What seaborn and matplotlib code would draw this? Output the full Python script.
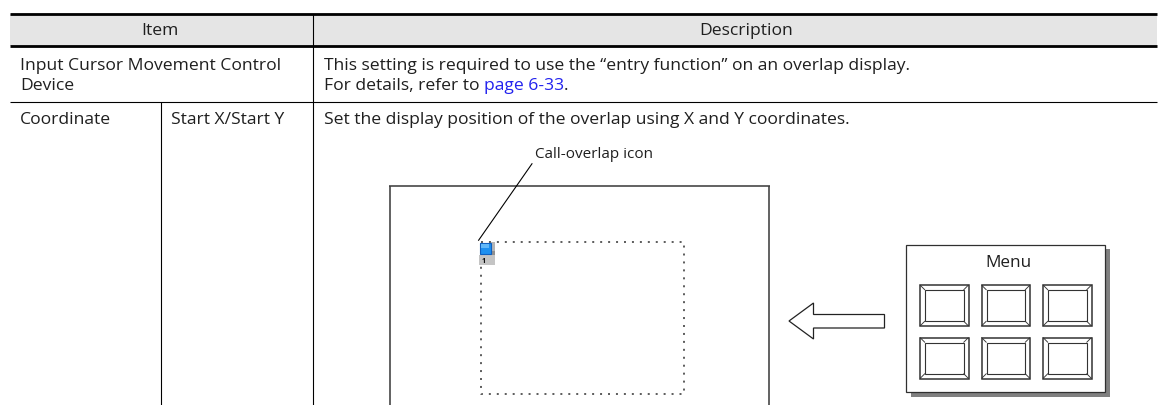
import matplotlib
matplotlib.use("Agg")
import matplotlib.pyplot as plt
from matplotlib.patches import Rectangle, Polygon
import seaborn as sns

sns.set_theme(style="white")
plt.rcParams['font.family'] = ['Open Sans', 'DejaVu Sans']

W, H = 1167, 405
header_labels = ["Item", "Description"]
row1_item = ["Input Cursor Movement Control", "Device"]
row1_desc = "This setting is required to use the \u201centry function\u201d on an overlap display."
row1_ref = ["For details, refer to ", "page 6-33", "."]
row2_item = ["Coordinate", "Start X/Start Y"]
row2_desc = "Set the display position of the overlap using X and Y coordinates."
callout = "Call-overlap icon"
menu_title = "Menu"
menu_cols = [920, 981.5, 1043]
menu_rows = [285, 337.5]

fig = plt.figure(figsize=(W / 100, H / 100), dpi=100)
ax = fig.add_axes([0, 0, 1, 1])
ax.set_xlim(0, W)
ax.set_ylim(H, 0)
ax.axis("off")

TXT = "#1f1f1f"
FS = 12.6


def t(x, y, s, **kw):
    kw.setdefault("fontsize", FS)
    kw.setdefault("color", TXT)
    kw.setdefault("va", "baseline")
    return ax.text(x, y, s, **kw)


def ln(xs, ys, lw=1.0, color="black", **kw):
    ax.plot(xs, ys, color=color, lw=lw * 0.72, solid_capstyle="butt", **kw)


# table
ax.add_patch(Rectangle((10, 14), 1147, 32, fc="#e5e5e5", ec="none"))
ln([10, 1157], [13.7, 13.7], 2.8)
ln([10, 1157], [46.3, 46.3], 2.8)
ln([10, 1157], [101.5, 101.5], 1.1)
ln([312.5, 312.5], [14, 405], 1.1)
ln([160.5, 160.5], [101.5, 405], 1.1)

t(160, 35, header_labels[0], ha="center")
t(746.5, 35, header_labels[1], ha="center")
t(20, 69.5, row1_item[0])
t(20, 90.5, row1_item[1])
t(323.5, 69.5, row1_desc)
a = t(323.5, 90.5, row1_ref[0])
fig.canvas.draw()
r = fig.canvas.get_renderer()
x = ax.transData.inverted().transform((a.get_window_extent(r).x1, 0))[0]
b = t(x, 90.5, row1_ref[1], color="#2222ee")
x = ax.transData.inverted().transform((b.get_window_extent(r).x1, 0))[0]
t(x, 90.5, row1_ref[2])
t(20, 124, row2_item[0])
t(171, 124, row2_item[1])
t(323.5, 124, row2_desc)

# overlap figure
ln([390, 390], [405, 185.5], 1.6, color="#404040")
ln([389.2, 769.8], [186, 186], 1.6, color="#404040")
ln([769, 769], [185.5, 405], 1.6, color="#404040")
ax.plot([480.7, 684, 684, 480.7, 480.7], [241.7, 241.7, 393.5, 393.5, 241.7],
        color="#303030", lw=1.1, ls=(0, (1.3, 3.9)))
ln([532.3, 478.3], [163.3, 240.7], 1.1)
t(535, 158.3, callout, fontsize=11, ha="left")

# call-overlap icon
ax.add_patch(Rectangle((479, 255), 16, 10, fc="#c4c4c4", ec="none", zorder=3))
ax.add_patch(Rectangle((491, 242), 4, 13, fc="#b5b5b5", ec="none", zorder=3))
ax.add_patch(Rectangle((487, 251), 8, 4, fc="#909090", ec="none", zorder=3))
ax.add_patch(Rectangle((479.5, 242.5), 11.5, 11.5, fc="#1e90f0", ec="#1060c0", lw=0.8, zorder=4))
ax.add_patch(Rectangle((481, 244), 8, 4, fc="#62b8f8", ec="none", zorder=5))
t(482, 263, "1", fontsize=5, fontweight="bold", color="black", zorder=6)

# arrow
ax.add_patch(Polygon([(789, 321), (813.5, 303), (813.5, 314.5), (884.5, 314.5),
                      (884.5, 328), (813.5, 328), (813.5, 339)],
                     closed=True, fc="white", ec="#222222", lw=0.9))

# menu panel
ax.add_patch(Rectangle((911, 248.5), 199, 148, fc="#808080", ec="none"))
ax.add_patch(Rectangle((906, 245), 199, 147, fc="white", ec="#303030", lw=0.9))
t(1008, 266.7, menu_title, fontsize=12.3, ha="center")
bw, bh, ins = 48.5, 41, 5
for cx in menu_cols:
    for cy in menu_rows:
        ax.add_patch(Rectangle((cx, cy), bw, bh, fc="white", ec="#333333", lw=1.1))
        ax.add_patch(Rectangle((cx + ins, cy + ins), bw - 2 * ins, bh - 2 * ins,
                               fc="white", ec="#333333", lw=0.8))
        for (x0, y0, x1, y1) in [(cx, cy, cx + ins, cy + ins),
                                 (cx + bw, cy, cx + bw - ins, cy + ins),
                                 (cx, cy + bh, cx + ins, cy + bh - ins),
                                 (cx + bw, cy + bh, cx + bw - ins, cy + bh - ins)]:
            ln([x0, x1], [y0, y1], 0.9, color="#333333")

fig.savefig("out.png", dpi=100)
